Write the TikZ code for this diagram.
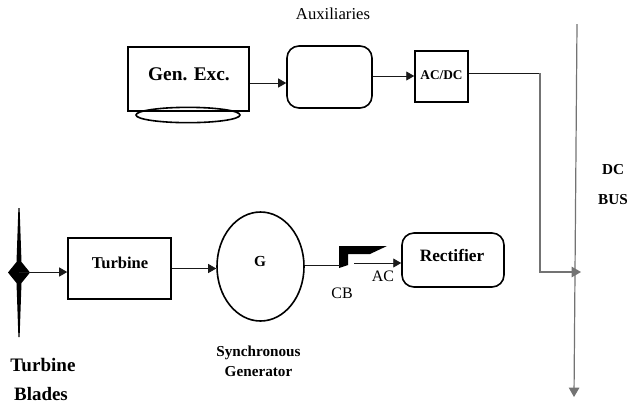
\documentclass[tikz,border=0pt]{standalone}
\usepackage{fontspec}
\setmainfont{Liberation Serif}
\usetikzlibrary{arrows}
\usetikzlibrary{shapes.geometric}
\definecolor{mycolor1}{rgb}{0.45000,0.45000,0.45000}
\definecolor{mycolor2}{rgb}{0.10000,0.10000,0.10000}
\tikzset{
  blockbox/.style={draw=black,line width=1.2pt,inner sep=0pt},
  roundbox/.style={blockbox,rounded corners=9pt},
  boldlabel/.style={inner sep=0pt,font=\bfseries\fontsize{#1}{#1}\selectfont},
  plainlabel/.style={inner sep=0pt,font=\fontsize{#1}{#1}\selectfont},
  wire/.style={-triangle 60,mycolor2,line width=0.6pt},
  buswire/.style={mycolor1,line width=0.9pt}
}
\begin{document}
\begin{tikzpicture}[x=0.75pt,y=-0.75pt]
\useasboundingbox (0,0) rectangle (628,405);

\node [blockbox,minimum width=90.75pt,minimum height=48pt] (genexc) at (188.5,79) {};
\node [blockbox,ellipse,minimum width=78pt,minimum height=11.5pt] (exciter) at (188,115) {};
\node [roundbox,minimum width=63.75pt,minimum height=46.5pt] (aux) at (329.5,77) {};
\node [blockbox,minimum width=39.75pt,minimum height=38.25pt] (acdc) at (441.5,76.5) {};
\node [blockbox,minimum width=77.25pt,minimum height=45.75pt] (turbine) at (119.5,268.5) {};
\node [blockbox,ellipse,minimum width=65.25pt,minimum height=81.75pt] (gen) at (260.5,266.5) {};
\node [roundbox,minimum width=76.5pt,minimum height=40.5pt] (rectifier) at (453,260) {};

\node [boldlabel=14.5] (genexclabel) at (189,74.5) {Gen. Exc.};
\node [plainlabel=12.5] (auxlabel) at (333,14) {Auxiliaries};
\node [boldlabel=10] (acdclabel) at (441.5,75) {AC/DC};
\node [boldlabel=12.4] (turbinelabel) at (120,263) {Turbine};
\node [boldlabel=11.5] (genlabel) at (260,261) {G};
\node [boldlabel=13] (rectifierlabel) at (452,255) {Rectifier};
\node [plainlabel=12] (aclabel) at (383,276) {AC};
\node [plainlabel=12] (cblabel) at (342,293) {CB};
\node [boldlabel=11.4] (synclabel) at (258.5,353) {Synchronous};
\node [boldlabel=11.4] (genname) at (258.5,372) {Generator};
\node [boldlabel=14.3] (bladeslabel) at (43,365) {Turbine};
\node [boldlabel=14.2] (bladesname) at (41,394) {Blades};
\node [boldlabel=11.4] (dclabel) at (613,170) {DC};
\node [boldlabel=11.4] (buslabel) at (613,200) {BUS};

\fill [black] (18.4,208) -- (19.6,208) -- (21.5,262) -- (30,272.5) -- (21.5,283) -- (19.6,337) -- (18.4,337) -- (16.5,283) -- (8,272.5) -- (16.5,262) -- cycle;
\fill [black] (339,246) -- (387,246) -- (370,254) -- (348,254) -- (348,265) -- (339,268) -- cycle;

\coordinate (hub) at (19,272);
\coordinate (bustop) at (577,24);
\coordinate (busend) at (574,397);
\coordinate (cbin) at (340,265);
\coordinate (cbout) at (354,263);
\coordinate (acdcout) at (468,73);
\coordinate (bendtop) at (540,73);
\coordinate (bendlow) at (540,272);
\coordinate (busin) at (581,272);

\draw [wire] (hub) -- (turbine.west |- hub);
\draw [wire] (turbine.east) -- (gen.west |- turbine.east);
\draw [mycolor2,line width=0.6pt] (gen.east |- cbin) -- (cbin);
\draw [wire] (cbout) -- (rectifier.west |- cbout);
\draw [wire] ([yshift=-3pt]genexc.east) -- ([yshift=-3pt]genexc.east -| aux.west);
\draw [wire] ([yshift=0.75pt]aux.east) -- ([yshift=0.75pt]aux.east -| acdc.west);
\draw [mycolor2,line width=0.6pt] (acdc.east |- acdcout) -- (bendtop);
\draw [buswire,-triangle 60] (bendtop) -- (bendlow) -- (busin);
\draw [buswire,-triangle 60] (bustop) -- (busend);
\end{tikzpicture}
\end{document}
